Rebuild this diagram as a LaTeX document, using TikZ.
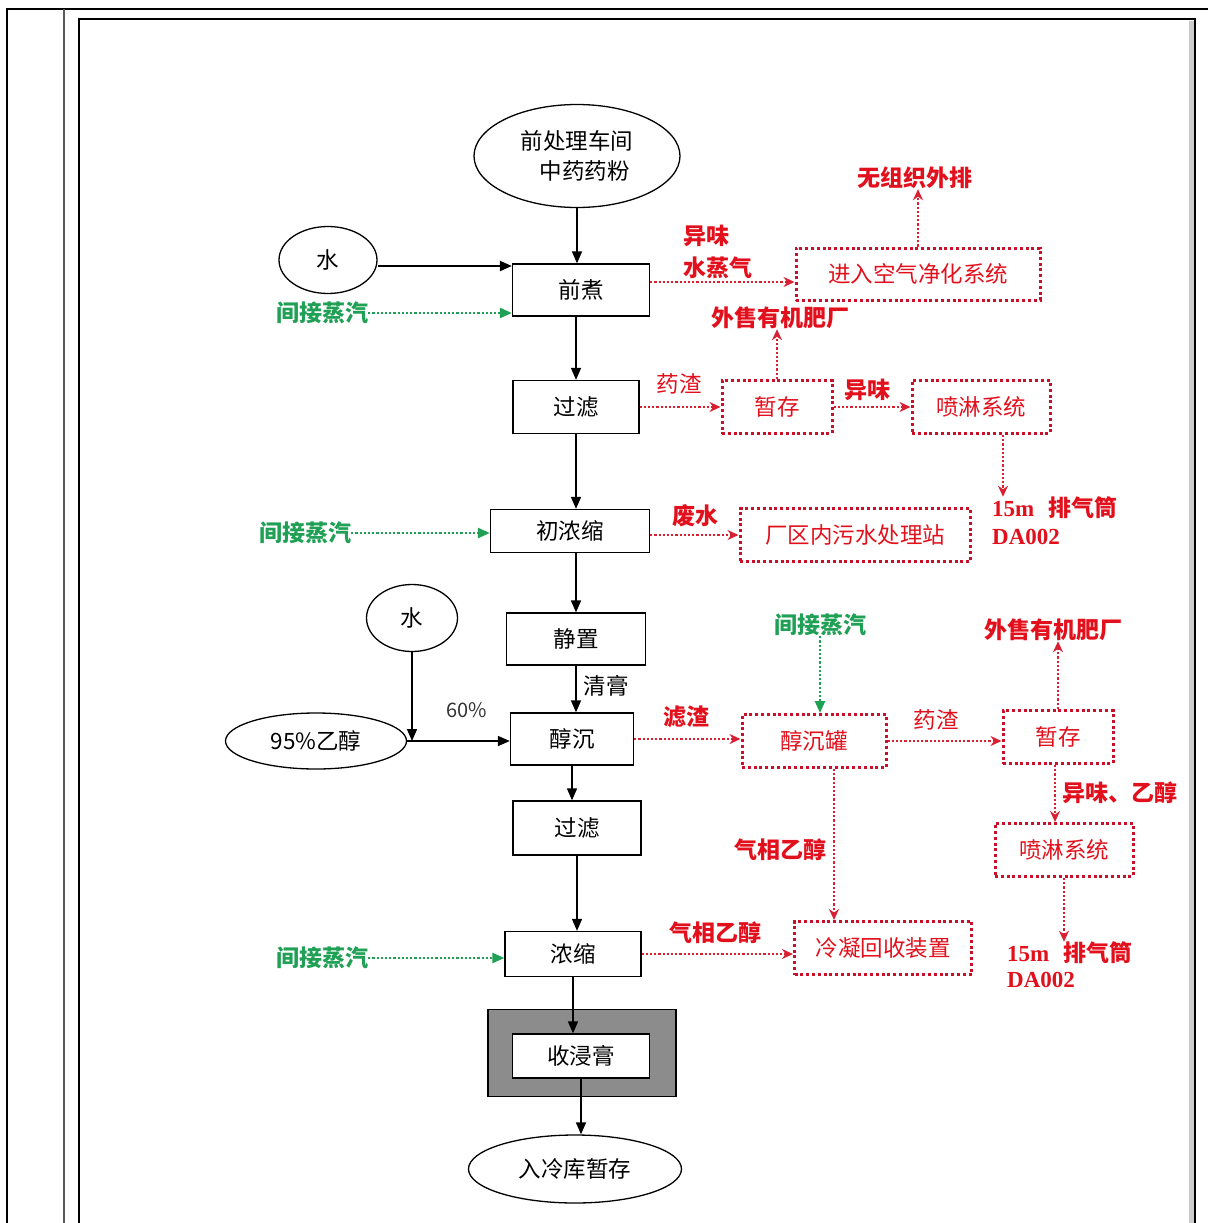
\documentclass[tikz,border=0pt]{standalone}
\usepackage{fontspec}
\setmainfont{Noto Sans CJK SC}
\newfontfamily\tnr{Liberation Serif}
\usetikzlibrary{arrows.meta,shapes.geometric}
\definecolor{rtext}{HTML}{E2101C}
\definecolor{rline}{HTML}{D82032}
\definecolor{rboxc}{HTML}{C8102A}
\definecolor{gtext}{HTML}{1FA055}
\definecolor{shell}{HTML}{8C8C8C}

\tikzset{
  every node/.style={font=\fontsize{22.5}{30}\selectfont, inner sep=0pt},
  proc/.style={draw=black, line width=1.3pt, fill=white, align=center},
  oval/.style={ellipse, draw=black, line width=1.3pt, align=center},
  rbox/.style={draw=rboxc, line width=3pt, dash pattern=on 3pt off 2.8pt, text=rtext},
  flow/.style={line width=1.6pt, -{Triangle[length=12pt,width=10pt]}},
  rflow/.style={draw=rline, line width=2.4pt, dash pattern=on 2.2pt off 2pt, -{Stealth[length=11pt,width=10pt]}},
  gflow/.style={draw=gtext, line width=2.4pt, dash pattern=on 2.2pt off 2pt, -{Triangle[length=12pt,width=10pt]}},
  rlab/.style={text=rtext, font=\fontsize{23}{26}\selectfont\bfseries},
  rlabn/.style={text=rtext},
  glab/.style={text=gtext, font=\fontsize{23}{26}\selectfont\bfseries},
  stackl/.style={text=rtext, anchor=west, font=\fontsize{23}{26}\selectfont\bfseries}
}

\begin{document}
\begin{tikzpicture}[x=1pt,y=-1pt]
\useasboundingbox (0,0) rectangle (1208,1223);

% page frame
\draw[line width=2.6pt] (7,1223) -- (7,9) -- (1208,9);
\draw[line width=1.5pt, black!65] (64,9) -- (64,1223);
\fill[black!20] (1189,21) rectangle (1194,1223);
\draw[line width=2pt] (79,1223) -- (79,19) -- (1195,19) -- (1195,1223);

% main process chain
\node[oval, minimum width=206pt, minimum height=103pt] (src) at (577,156) {前处理车间\\\hspace{0.7em}中药药粉};
\node[oval, minimum width=98pt, minimum height=67pt] (w1) at (328,260) {水};
\node[proc, minimum width=137pt, minimum height=52pt] (qz) at (581,290) {前煮};
\node[proc, minimum width=126pt, minimum height=53pt] (gl1) at (576,407) {过滤};
\node[proc, minimum width=159pt, minimum height=43pt] (cn) at (570,531) {初浓缩};
\node[proc, minimum width=139pt, minimum height=52pt] (jz) at (576,639) {静置};
\node[oval, minimum width=91pt, minimum height=67pt] (w2) at (412,618) {水};
\node[oval, minimum width=181pt, minimum height=56pt] (eth) at (316,741) {95\%乙醇};
\node[proc, minimum width=123pt, minimum height=52pt] (cc) at (572,739) {醇沉};
\node[proc, minimum width=128pt, minimum height=54pt] (gl2) at (577,828) {过滤};
\node[proc, minimum width=136pt, minimum height=45pt] (nc) at (573,954) {浓缩};
\node[draw=black, line width=1.3pt, fill=shell, minimum width=188pt, minimum height=87pt] (shellbox) at (582,1053) {};
\node[proc, minimum width=137pt, minimum height=44pt] (sjg) at (581,1056) {收浸膏};
\node[oval, minimum width=213pt, minimum height=68pt] (cold) at (575,1169) {入冷库暂存};

\draw[flow] (src.south) -- (src.south |- qz.north);
\draw[flow, line width=2.2pt] ([yshift=-6pt]w1.east) -- ([yshift=-6pt]w1.east -| qz.west);
\draw[flow] (gl1.north |- qz.south) -- (gl1.north);
\draw[flow] (gl1.south) -- (gl1.south |- cn.north);
\draw[flow] (jz.north |- cn.south) -- (jz.north);
\draw[flow] (jz.south) -- (jz.south |- cc.north);
\draw[flow] (w2.south) -- (w2.south |- eth.east);
\draw[flow] (eth.east) -- (eth.east -| cc.west);
\draw[flow] (cc.south) -- (cc.south |- gl2.north);
\draw[flow] (gl2.south) -- (gl2.south |- nc.north);
\draw[flow] (nc.south) -- (nc.south |- sjg.north);
\draw[flow] (sjg.south) -- (sjg.south |- cold.north);

\node[text=black!80] (p60) at (467,710) {\fontsize{20}{22}\selectfont 60\%};
\node (qg) at (606,686) {清膏};

% indirect steam inputs
\node[glab] (st1) at (322,313) {间接蒸汽};
\node[glab] (st2) at (305,533) {间接蒸汽};
\node[glab] (st3) at (820,625) {间接蒸汽};
\node[glab] (st4) at (322,958) {间接蒸汽};

% side treatment units
\node[rbox, minimum width=244pt, minimum height=52pt] (air) at (918,274) {进入空气净化系统};
\node[rbox, minimum width=110pt, minimum height=53pt] (zc1) at (777,407) {暂存};
\node[rbox, minimum width=138pt, minimum height=53pt] (pl1) at (981,407) {喷淋系统};
\node[rbox, minimum width=230pt, minimum height=53pt] (ws) at (855,535) {厂区内污水处理站};
\node[rbox, minimum width=144pt, minimum height=53pt] (cct) at (814,741) {醇沉罐};
\node[rbox, minimum width=110pt, minimum height=53pt] (zc2) at (1058,737) {暂存};
\node[rbox, minimum width=138pt, minimum height=53pt] (pl2) at (1064,850) {喷淋系统};
\node[rbox, minimum width=177pt, minimum height=53pt] (cond) at (883,948) {冷凝回收装置};

% emission / output labels
\node[rlab, anchor=west] (l1a) at (683,236) {异味};
\node[rlab, anchor=west] (l1b) at (683,268) {水蒸气};
\node[rlab] (l2) at (915,178) {无组织外排};
\node[rlabn] (l3) at (679,384) {药渣};
\node[rlab] (l4) at (780,318) {外售有机肥厂};
\node[rlab] (l5) at (867,390) {异味};
\node[stackl] (ex1) at (992,508) {{\tnr 15m}\hspace{0.6em}排气筒};
\node[stackl] (ex1b) at (992,537) {{\tnr DA002}};
\node[rlab] (l7) at (695,516) {废水};
\node[rlab] (l8) at (686,717) {滤渣};
\node[rlabn] (l9) at (936,720) {药渣};
\node[rlab] (l10) at (1053,630) {外售有机肥厂};
\node[rlab, anchor=west] (l11) at (1062,793) {异味、乙醇};
\node[stackl] (ex2) at (1007,953) {{\tnr 15m}\hspace{0.6em}排气筒};
\node[stackl] (ex2b) at (1007,980) {{\tnr DA002}};
\node[rlab] (l12) at (780,850) {气相乙醇};
\node[rlab] (l13) at (715,933) {气相乙醇};

% steam connectors
\draw[gflow] (st1.east) -- (st1.east -| qz.west);
\draw[gflow] (st2.east) -- (st2.east -| cn.west);
\draw[gflow] (st3.south) -- (st3.south |- cct.north);
\draw[gflow] (st4.east) -- (st4.east -| nc.west);

% discharge connectors
\draw[rflow] ([yshift=8pt]qz.east) -- ([yshift=8pt]qz.east -| air.west);
\draw[rflow] (air.north) -- (air.north |- l2.south);
\draw[rflow] (gl1.east) -- (gl1.east -| zc1.west);
\draw[rflow] (zc1.north) -- (zc1.north |- l4.south);
\draw[rflow] (zc1.east) -- (zc1.east -| pl1.west);
\draw[rflow] ([xshift=22pt]pl1.south) -- ([xshift=22pt]pl1.south |- ex1.north);
\draw[rflow] ([yshift=-4pt]cn.east) -- ([yshift=-4pt]cn.east -| ws.west);
\draw[rflow] (cc.east) -- (cc.east -| cct.west);
\draw[rflow] (cct.east) -- (cct.east -| zc2.west);
\draw[rflow] (zc2.north) -- (zc2.north |- l10.south);
\draw[rflow] ([xshift=-3pt]zc2.south) -- ([xshift=-3pt]zc2.south |- pl2.north);
\draw[rflow] (pl2.south) -- (pl2.south |- ex2.north);
\draw[rflow] ([xshift=20pt]cct.south) -- ([xshift=20pt]cct.south |- cond.north);
\draw[rflow] (nc.east) -- (nc.east -| cond.west);
\end{tikzpicture}
\end{document}
